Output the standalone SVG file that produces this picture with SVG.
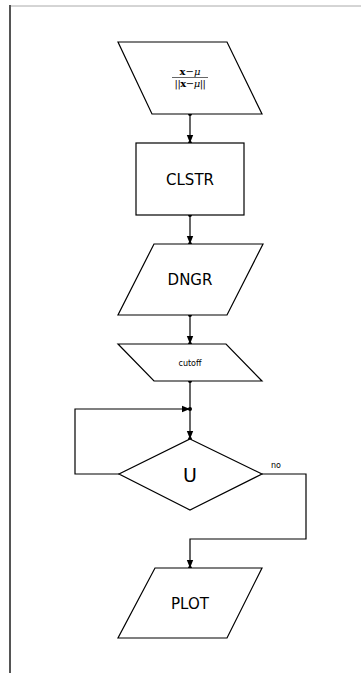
<svg xmlns="http://www.w3.org/2000/svg" width="361" height="673" viewBox="0 0 361 673">
<defs>
<style>
.shape{fill:#fff;stroke:#000;stroke-width:1.2}
.edge{fill:none;stroke:#000;stroke-width:1.2}
.dot{fill:#000}
.lbl{font-family:"DejaVu Sans",sans-serif;fill:#000;text-anchor:middle}
.math{font-family:"DejaVu Serif",serif;fill:#000;text-anchor:middle;font-size:10px}
</style>
<marker id="ah" viewBox="0 0 8 8" refX="8" refY="4" markerWidth="8" markerHeight="8" markerUnits="userSpaceOnUse" orient="auto">
<path d="M0,0.8 L8,4 L0,7.2 Z" fill="#000"/>
</marker>
</defs>
<rect x="0" y="0" width="361" height="673" fill="#fff"/>
<line x1="9" y1="6" x2="361" y2="6" stroke="#aaa" stroke-width="1"/>
<line x1="10" y1="5" x2="10" y2="673" stroke="#555" stroke-width="2"/>

<g id="connectors">
<line class="edge" x1="190" y1="114" x2="190" y2="143" marker-end="url(#ah)"/>
<line class="edge" x1="190" y1="215" x2="190" y2="244" marker-end="url(#ah)"/>
<line class="edge" x1="190" y1="315" x2="190" y2="344" marker-end="url(#ah)"/>
<line class="edge" x1="190" y1="381" x2="190" y2="439" marker-end="url(#ah)"/>
<polyline class="edge" points="119,474 75,474 75,409 190,409" marker-end="url(#ah)"/>
<polyline class="edge" points="262,474 306,474 306,539 190,539 190,568" marker-end="url(#ah)"/>
<circle class="dot" cx="190" cy="114" r="2"/>
<circle class="dot" cx="190" cy="143" r="2"/>
<circle class="dot" cx="190" cy="215" r="2"/>
<circle class="dot" cx="190" cy="244" r="2"/>
<circle class="dot" cx="190" cy="315" r="2"/>
<circle class="dot" cx="190" cy="344" r="2"/>
<circle class="dot" cx="190" cy="381" r="2"/>
<circle class="dot" cx="190" cy="409" r="2"/>
<circle class="dot" cx="190" cy="439" r="2"/>
<circle class="dot" cx="190" cy="568" r="2"/>
<text class="lbl" x="276" y="468" font-size="8">no</text>
</g>

<g id="node-norm">
<polygon class="shape" points="118,42 227,42 262,114 152,114"/>
<text class="math" x="190" y="75"><tspan font-weight="bold">x</tspan>−<tspan font-style="italic">μ</tspan></text>
<line x1="172" y1="77.5" x2="208" y2="77.5" stroke="#000" stroke-width="0.6"/>
<text class="math" x="190" y="87" letter-spacing="-0.5">||<tspan font-weight="bold">x</tspan>−<tspan font-style="italic">μ</tspan>||</text>
</g>

<g id="node-clstr">
<rect class="shape" x="136" y="143" width="108" height="72"/>
<text class="lbl" x="190" y="185" font-size="15">CLSTR</text>
</g>

<g id="node-dngr">
<polygon class="shape" points="154,244 263,244 227,315 118,315"/>
<text class="lbl" x="190" y="285" font-size="15">DNGR</text>
</g>

<g id="node-cutoff">
<polygon class="shape" points="118,344 226,344 262,381 154,381"/>
<text class="lbl" x="190" y="366" font-size="8">cutoff</text>
</g>

<g id="node-u">
<polygon class="shape" points="190,439 262,474 190,510 119,474"/>
<text class="lbl" x="190" y="482" font-size="19">U</text>
</g>

<g id="node-plot">
<polygon class="shape" points="155,568 262,568 227,638 118,638"/>
<text class="lbl" x="190" y="609" font-size="15">PLOT</text>
</g>
</svg>
